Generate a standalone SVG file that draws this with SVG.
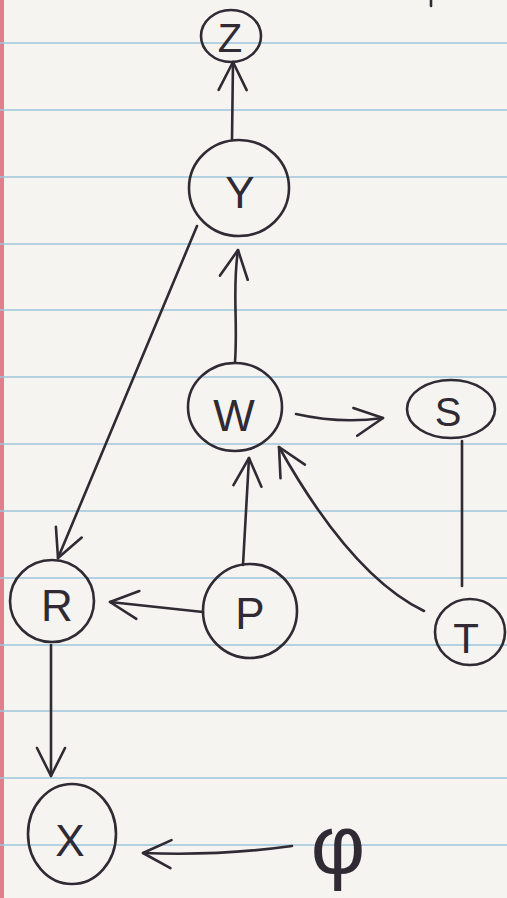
<svg xmlns="http://www.w3.org/2000/svg" width="507" height="898" viewBox="0 0 507 898">
<style>
.paper{fill:#f6f4f0}
.rule{stroke:#9cc6dc;stroke-width:1.5}
.node{fill:none;stroke:#2f2a33;stroke-width:2.6}
.lbl{font-family:"Liberation Sans",Arial,sans-serif;font-size:44px;fill:#2f2a33;text-anchor:middle;dominant-baseline:central}
.edge{fill:none;stroke:#2f2a33;stroke-width:2.6;stroke-linecap:round}
</style>
<defs>
<marker id="arr" viewBox="0 0 32 32" refX="30" refY="16" markerWidth="32" markerHeight="32" markerUnits="userSpaceOnUse" orient="auto">
<path d="M2,2 L30,16 L2,30" fill="none" stroke="#2f2a33" stroke-width="2.6" stroke-linecap="round" stroke-linejoin="round"/>
</marker>
</defs>
<rect class="paper" x="0" y="0" width="507" height="898"/>
<rect x="0" y="0" width="4" height="898" fill="#e07f8a"/>
<g id="rules">
<line class="rule" x1="0" y1="43" x2="507" y2="43"/>
<line class="rule" x1="0" y1="110" x2="507" y2="110"/>
<line class="rule" x1="0" y1="177" x2="507" y2="177"/>
<line class="rule" x1="0" y1="244" x2="507" y2="244"/>
<line class="rule" x1="0" y1="310" x2="507" y2="310"/>
<line class="rule" x1="0" y1="377" x2="507" y2="377"/>
<line class="rule" x1="0" y1="444" x2="507" y2="444"/>
<line class="rule" x1="0" y1="511" x2="507" y2="511"/>
<line class="rule" x1="0" y1="578" x2="507" y2="578"/>
<line class="rule" x1="0" y1="645" x2="507" y2="645"/>
<line class="rule" x1="0" y1="711" x2="507" y2="711"/>
<line class="rule" x1="0" y1="778" x2="507" y2="778"/>
<line class="rule" x1="0" y1="845" x2="507" y2="845"/>
</g>
<line class="edge" x1="431" y1="0" x2="431" y2="6"/>
<g id="connectors">
<path class="edge" d="M232,140 L233,62" marker-end="url(#arr)"/>
<path class="edge" d="M235,362 C238,320 232,290 238,250" marker-end="url(#arr)"/>
<path class="edge" d="M197,226 L58,558" marker-end="url(#arr)"/>
<path class="edge" d="M296,414 Q340,424 383,418" marker-end="url(#arr)"/>
<path class="edge" d="M243,565 L249,458" marker-end="url(#arr)"/>
<path class="edge" d="M424,611 C370,585 320,520 279,447" marker-end="url(#arr)"/>
<path class="edge" d="M462,441 L462,586"/>
<path class="edge" d="M203,612 L110,602" marker-end="url(#arr)"/>
<path class="edge" d="M51,645 L51,776" marker-end="url(#arr)"/>
<path class="edge" d="M292,846 Q220,856 143,853" marker-end="url(#arr)"/>
</g>
<g id="node-Z"><ellipse class="node" cx="231" cy="36" rx="30" ry="26"/><text class="lbl" x="230" y="38" style="font-size:40px">Z</text></g>
<g id="node-Y"><ellipse class="node" cx="239" cy="188" rx="50" ry="48"/><text class="lbl" x="240" y="192">Y</text></g>
<g id="node-W"><ellipse class="node" cx="235" cy="407" rx="47" ry="44"/><text class="lbl" x="234" y="415">W</text></g>
<g id="node-S"><ellipse class="node" cx="451" cy="409" rx="44" ry="29"/><text class="lbl" x="448" y="412" style="font-size:40px">S</text></g>
<g id="node-R"><ellipse class="node" cx="52" cy="601" rx="42" ry="41"/><text class="lbl" x="57" y="605">R</text></g>
<g id="node-P"><ellipse class="node" cx="250" cy="611" rx="47" ry="47"/><text class="lbl" x="250" y="613">P</text></g>
<g id="node-T"><ellipse class="node" cx="470" cy="632" rx="35" ry="33"/><text class="lbl" x="466" y="638" style="font-size:42px">T</text></g>
<g id="node-X"><ellipse class="node" cx="72" cy="834" rx="44" ry="50"/><text class="lbl" x="70" y="840">X</text></g>
<g id="node-phi"><text class="lbl" x="338" y="845" style="font-size:84px">φ</text></g>
</svg>
